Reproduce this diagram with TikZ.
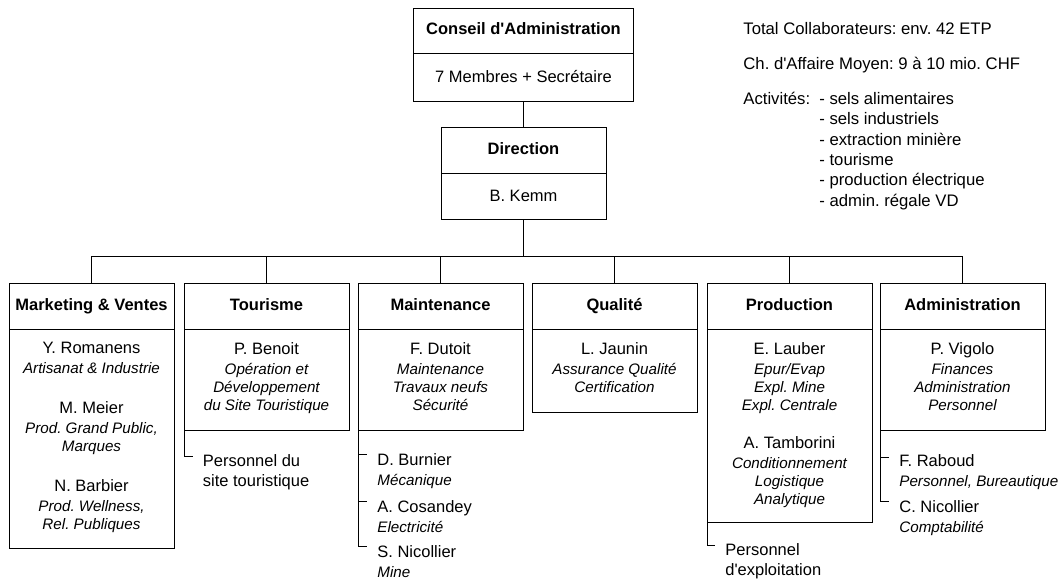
\documentclass[tikz,border=0pt]{standalone}
\usepackage{fontspec}
\setmainfont{Liberation Sans}
\usetikzlibrary{positioning}
\frenchspacing

\newcommand{\pname}[1]{{\upshape\fontsize{16.5}{18}\selectfont #1}}

\tikzset{
  boxhead/.style={draw, inner sep=0pt, outer sep=0pt, minimum width=165pt, minimum height=46pt,
    text height=12pt, text depth=3.5pt, font=\bfseries\fontsize{16.5}{20}\selectfont},
  boxbody/.style={draw, inner sep=0pt, outer sep=0pt, minimum width=165pt, below=0pt of #1,
    font=\fontsize{16.5}{20}\selectfont},
  staff/.style={align=center, inner sep=0pt, font=\itshape\fontsize{15.2}{18}\selectfont},
  sublist/.style={align=left, inner sep=0pt, font=\itshape\fontsize{15.2}{20}\selectfont},
}

\begin{document}
\begin{tikzpicture}[x=1pt, y=-1pt, line width=0.8pt]
    \useasboundingbox (0,0) rectangle (1058,579);

    % top of the chart
    \node[boxhead, minimum width=220pt, minimum height=45pt] (ca-head) at (523.5,30.5) {Conseil d\textquotesingle Administration};
    \node[boxbody=ca-head, minimum width=220pt, minimum height=48pt] (ca-body) {7 Membres + Secrétaire};

    \node[boxhead] (dir-head) at (523.5,150) {Direction};
    \node[boxbody=dir-head, minimum height=46pt] (dir-body) {B. Kemm};

    \coordinate (bus) at (523.5,256);

    % departments
    \node[boxhead] (mkt-head) at (91.5,306) {Marketing \& Ventes};
    \node[boxbody=mkt-head, minimum height=219pt] (mkt-body) {};
    \node[boxhead] (tour-head) at (266.5,306) {Tourisme};
    \node[boxbody=tour-head, minimum height=101pt] (tour-body) {};
    \node[boxhead] (main-head) at (440.5,306) {Maintenance};
    \node[boxbody=main-head, minimum height=101pt] (main-body) {};
    \node[boxhead] (qual-head) at (614.5,306) {Qualité};
    \node[boxbody=qual-head, minimum height=83pt] (qual-body) {};
    \node[boxhead] (prod-head) at (789.5,306) {Production};
    \node[boxbody=prod-head, minimum height=193pt] (prod-body) {};
    \node[boxhead] (adm-head) at (962.5,306) {Administration};
    \node[boxbody=adm-head, minimum height=101pt] (adm-body) {};

    \node[staff, below=13pt of mkt-body.north] (mkt-staff) {\pname{Y. Romanens}\\[2pt] Artisanat \& Industrie\\[22pt]
      \pname{M. Meier}\\[2pt] Prod. Grand Public,\\ Marques\\[22pt]
      \pname{N. Barbier}\\[2pt] Prod. Wellness,\\ Rel. Publiques};
    \node[staff, below=13pt of tour-body.north] (tour-staff) {\pname{P. Benoit}\\[2pt] Opération et\\ Développement\\ du Site Touristique};
    \node[staff, below=13pt of main-body.north] (main-staff) {\pname{F. Dutoit}\\[2pt] Maintenance\\ Travaux neufs\\ Sécurité};
    \node[staff, below=13pt of qual-body.north] (qual-staff) {\pname{L. Jaunin}\\[2pt] Assurance Qualité\\ Certification};
    \node[staff, below=13pt of prod-body.north] (prod-staff) {\pname{E. Lauber}\\[2pt] Epur/Evap\\ Expl. Mine\\ Expl. Centrale\\[20pt]
      \pname{A. Tamborini}\\[2pt] Conditionnement\\ Logistique\\ Analytique};
    \node[staff, below=13pt of adm-body.north] (adm-staff) {\pname{P. Vigolo}\\[2pt] Finances\\ Administration\\ Personnel};

    % people below the boxes
    \node[sublist, below right=24pt and 18.5pt of tour-body.south west] (tour-pers) {\pname{Personnel du}\\ \pname{site touristique}};
    \node[sublist, below right=23pt and 19pt of main-body.south west] (burnier) {\pname{D. Burnier}\\ Mécanique};
    \node[sublist, below right=70pt and 19pt of main-body.south west] (cosandey) {\pname{A. Cosandey}\\ Electricité};
    \node[sublist, below right=115pt and 19pt of main-body.south west] (nicollier-s) {\pname{S. Nicollier}\\ Mine};
    \node[sublist, below right=21pt and 18pt of prod-body.south west] (prod-pers) {\pname{Personnel}\\ \pname{d\textquotesingle exploitation}};
    \node[sublist, below right=24pt and 19pt of adm-body.south west] (raboud) {\pname{F. Raboud}\\ Personnel, Bureautique};
    \node[sublist, below right=70pt and 19pt of adm-body.south west] (nicollier-c) {\pname{C. Nicollier}\\ Comptabilité};

    % key figures
    \node[anchor=north west, inner sep=0pt, font=\fontsize{16.7}{20.4}\selectfont] (info) at (743,19.7) {%
      \begin{tabular}{@{}p{76pt}@{}l@{}}
        \multicolumn{2}{@{}l@{}}{Total Collaborateurs: env. 42 ETP}\\[14.6pt]
        \multicolumn{2}{@{}l@{}}{Ch. d\textquotesingle Affaire Moyen: 9 à 10 mio. CHF}\\[14.6pt]
        Activités: & - sels alimentaires\\
                   & - sels industriels\\
                   & - extraction minière\\
                   & - tourisme\\
                   & - production électrique\\
                   & - admin. régale VD
      \end{tabular}};

    % connectors
    \draw (ca-body.south) -- (dir-head.north);
    \draw (dir-body.south) -- (bus);
    \draw (bus) -| (mkt-head.north);
    \draw (bus) -| (tour-head.north);
    \draw (bus) -| (main-head.north);
    \draw (bus) -| (qual-head.north);
    \draw (bus) -| (prod-head.north);
    \draw (bus) -| (adm-head.north);

    \draw (tour-body.south west) |- ([xshift=-10pt, yshift=-2pt]tour-pers.north west);
    \draw (main-body.south west) |- ([xshift=-10pt, yshift=-1pt]burnier.north west);
    \draw (main-body.south west) |- ([xshift=-10pt, yshift=-1pt]cosandey.north west);
    \draw (main-body.south west) |- ([xshift=-10pt, yshift=-1pt]nicollier-s.north west);
    \draw (prod-body.south west) |- ([xshift=-10pt, yshift=-2pt]prod-pers.north west);
    \draw (adm-body.south west) |- ([xshift=-10pt, yshift=-3pt]raboud.north west);
    \draw (adm-body.south west) |- ([xshift=-10pt, yshift=-1pt]nicollier-c.north west);
\end{tikzpicture}
\end{document}
